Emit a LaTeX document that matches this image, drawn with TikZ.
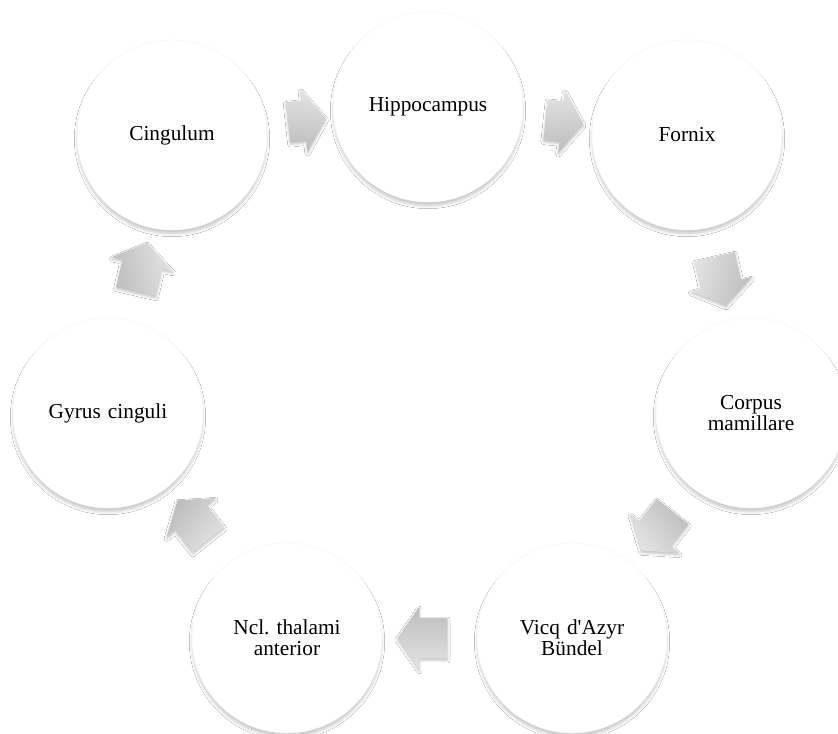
\documentclass[tikz,border=0pt]{standalone}
\usepackage{fontspec}
\setmainfont{Liberation Serif}
\usetikzlibrary{shapes.arrows,calc,shadows.blur}
\frenchspacing

\begin{document}
\begin{tikzpicture}[
x=0.75pt, y=-0.75pt,
stage/.style={
	circle, minimum size=142.5pt, inner sep=2pt,
	draw=black!3, fill=white,
	text width=3.2cm, align=center,
	font=\fontsize{16}{15.5}\selectfont,
	blur shadow={shadow xshift=0pt, shadow yshift=-3pt, shadow blur radius=2pt, shadow opacity=20},
},
flow/.style={
	single arrow, single arrow head extend=8.25pt, single arrow tip angle=110,
	minimum height=#1, inner xsep=0pt, inner ysep=15pt,
	top color=black!11, bottom color=black!26, draw=none,
	blur shadow={shadow xshift=0pt, shadow yshift=-1.5pt, shadow blur radius=2pt, shadow opacity=25},
},
]
\useasboundingbox (0,0) rectangle (838,734);
\fill[white] (0,0) rectangle (838,734);

\node[stage] (hippo) at (428,107) {Hippocampus};
\node[stage] (fornix) at (687,135) {Fornix};
\node[stage] (corpus) at (751,413) {Corpus\\mamillare};
\node[stage] (vicq) at (572,638) {Vicq d\textquotesingle Azyr\\Bündel};
\node[stage] (ncl) at (287,638) {Ncl. thalami\\anterior};
\node[stage] (gyrus) at (108,413) {Gyrus cinguli};
\node[stage] (cingulum) at (172,135) {Cingulum};

\foreach \src/\dst/\len [count=\i] in {cingulum/hippo/28.5pt, hippo/fornix/28.5pt,
    fornix/corpus/37.5pt, corpus/vicq/37.5pt, vicq/ncl/37.5pt,
    ncl/gyrus/37.5pt, gyrus/cingulum/37.5pt}
  \path let \p1=($(\dst)-(\src)$), \n1={atan2(\y1,\x1)} in
    node[flow=\len, rotate=\n1, shading angle=-\n1] (arrow\i) at ($(\src)!.5!(\dst)$) {};
\end{tikzpicture}
\end{document}
